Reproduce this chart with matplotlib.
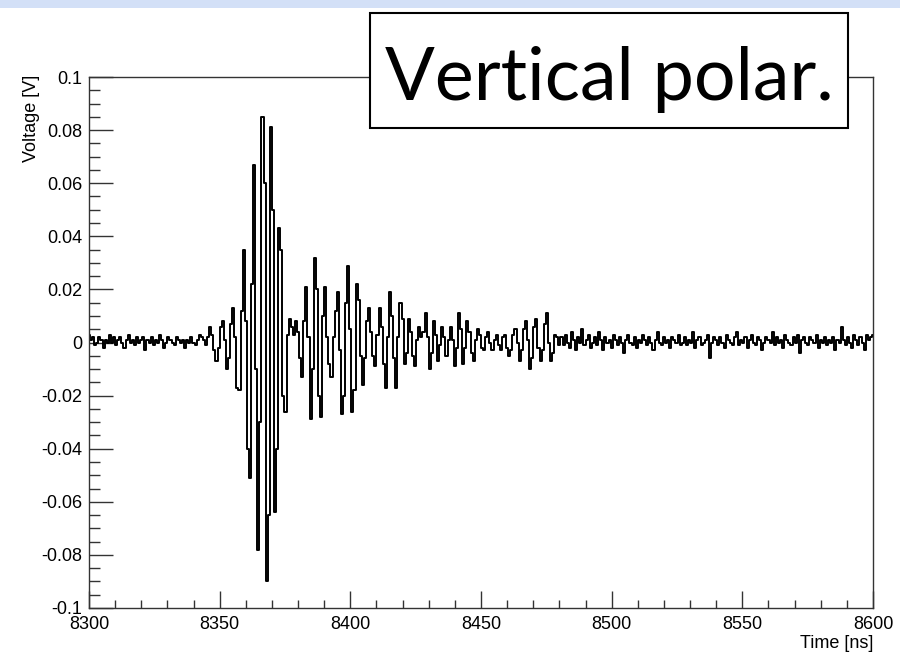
import numpy as np
import matplotlib
matplotlib.use("Agg")
import matplotlib.pyplot as plt
from matplotlib.patches import Rectangle
from matplotlib.ticker import MultipleLocator, FuncFormatter

# waveform samples in mV, one every dt ns starting at t0
t0 = 8300.0
dt = 0.8

pre_noise = [3, 1, 2, -1, 0, 2, 1, -2, 1, 0,
             3, 0, 2, -1, 1, 2, 0, -2, 1, 3,
             0, 1, -1, 2, 0, 1, 2, -3, 1, 0,
             2, -1, 1, 0, 3, 1, -2, 0, 2, 1,
             0, -1, 2, 1, 0, 1, -2, 1, 0, 2,
             0, -1, 1, 3]

pulse = [2, 1, -1, 2, 6, 3, -3, -7, -2, 6,
         8, 1, -10, -6, 7, 13, 2, -17, -18, 12,
         35, 8, -40, -51, 22, 67, -10, -78, -30, 85,
         60, -90, -65, 81, 50, -64, -40, 43, 35, -20,
         -26, 3, 9, 6, 3, 8, 4, -6, -13, 8,
         21, 2, -29, -10, 32, 20, -20, -28, 10, 21,
         2, -8, -13, 2, 12, 19, -3, -27, -20, 15,
         29, 5, -26, -18, 22, 16, -5, -16, -6, 8,
         13, 4, -5, -9, 3, 13, 6, -8, -17, 2,
         19, 10, -6, -17, 2, 15, 9, -8, -4, 9,
         4, -5, -9, 1, 6, 2, 4, 11, 2, -10,
         -4, 8, 3, -7, -1, 6, 2, -5, 1, 6,
         1, -9, -2, 11, 5, -8, -2, 8, 4, -4,
         -7, 1, 5, 3, -2, -3, 2, 4, 0, -3,
         1, 3, -1, -3, 2, 3, -2, -5, -3, 3,
         5, 0, -7, -3, 5, 8, 1, -10, -6, 6,
         9, -2, -7, -3, 7, 11, 0, -7, -4, 3,
         2, -1]

post_noise = [2, -1, 3, 0, -2, 4, 1, -3, 2, 0,
              5, -1, 1, 3, -2, 0, 2, -1, 4, 1,
              -3, 2, 0, 1, -2, 3, 1, -1, 2, 0,
              -4, 1, 3, 0, -1, 2, -2, 1, 0, 3,
              1, -1, 2, 0, -3, 1, 4, 0, -1, 2,
              0, 1, -2, 2, 1, 0, 3, -1, 0, 2,
              -1, 1, 0, 4, -2, 1, 2, -1, 0, 1,
              3, -6, 0, 2, 1, -1, 2, 0, -2, 3,
              1, 0, -1, 2, 4, -1, 1, 0, 2, -2,
              1, 3, 0, -1, 2, 1, -3, 0, 2, 1,
              0, 4, -1, 2, 0, 1, -2, 3, 1, 0,
              -1, 2, 0, 3, -4, 1, 2, 0, -1, 2,
              1, 0, 3, -2, 1, 0, 2, -1, 1, 0,
              2, -3, 1, 0, 6, 1, -1, 2, 0, -2,
              3, 1, -1, 2, 0, -3, 3, 1, 2, 3]

title_text = "Vertical polar."

volts = np.array(pre_noise + pulse + post_noise) / 1000.0
times = t0 + dt * np.arange(len(volts))

plt.rcParams['font.family'] = ['Liberation Sans', 'DejaVu Sans']

fig = plt.figure(figsize=(9, 6.56), dpi=100)
ax = fig.add_axes([89/900, 1-608/656, (873-89)/900, (608-77)/656])

ax.plot(times, volts, drawstyle='steps-mid', color='black', lw=1.4)
ax.set_xlim(8300, 8600)
ax.set_ylim(-0.1, 0.1)

ax.xaxis.set_major_locator(MultipleLocator(50))
ax.xaxis.set_minor_locator(MultipleLocator(10))
ax.yaxis.set_major_locator(MultipleLocator(0.02))
ax.yaxis.set_minor_locator(MultipleLocator(0.005))

def yfmt(v, pos):
    s = "%g" % round(v, 3)
    return "0" if s in ("0", "-0") else s

ax.yaxis.set_major_formatter(FuncFormatter(yfmt))
ax.xaxis.set_major_formatter(FuncFormatter(lambda v, p: "%d" % v))

ax.tick_params(axis='both', which='both', direction='in', top=False, right=False,
               labelsize=13, width=1.0, color='#333333')
ax.tick_params(axis='x', which='major', length=12, pad=6)
ax.tick_params(axis='x', which='minor', length=6)
ax.tick_params(axis='y', which='major', length=17, pad=5)
ax.tick_params(axis='y', which='minor', length=8)
for s in ax.spines.values():
    s.set_linewidth(1.0)
    s.set_color('#333333')

fig.text(32/900, 1-75/656, "Voltage [V]", rotation=90, ha='center', va='top', fontsize=13)
fig.text(873/900, 1-652/656, "Time [ns]", ha='right', va='bottom', fontsize=13)

# slide header band and the label box
fig.patches.append(Rectangle((0, 1-8/656), 1, 8/656, transform=fig.transFigure,
                             facecolor='#d3e0f7', edgecolor='none', zorder=5))
fig.patches.append(Rectangle((370/900, 1-128/656), 478/900, 115/656, transform=fig.transFigure,
                             facecolor='white', edgecolor='black', lw=1.5, zorder=5))
fig.text(609/900, 1-100/656, title_text, ha='center', va='baseline', fontsize=53,
         family=['Lato', 'DejaVu Sans'], zorder=6)

fig.savefig("out.png", dpi=100)
